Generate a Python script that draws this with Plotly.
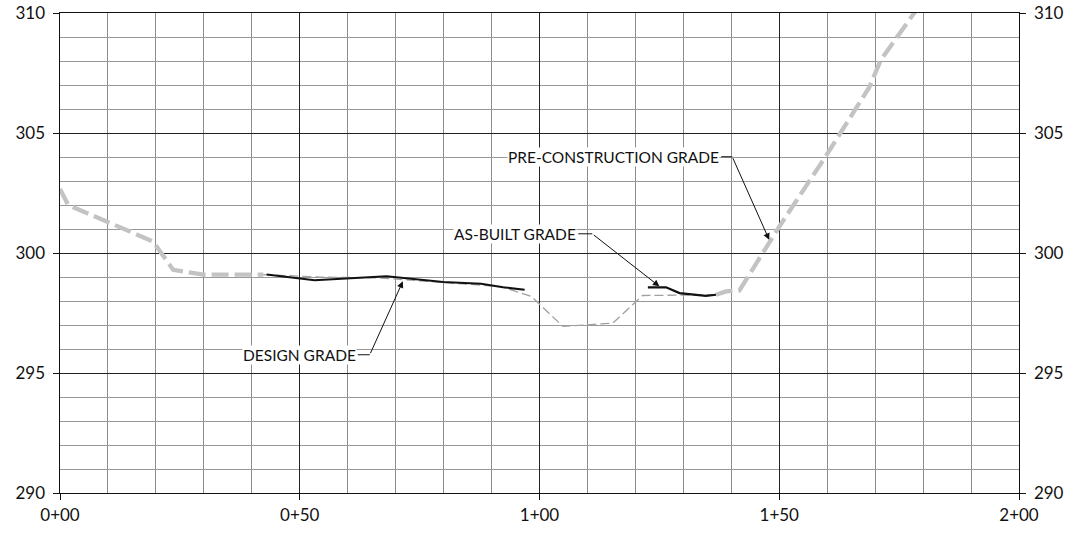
import plotly.graph_objects as go

# Station (ft) and elevation values read from the profile
pre_x_left = [0, 1.7, 19.4, 23.6, 29.9, 42.4]
pre_y_left = [302.67, 302.0, 300.48, 299.3, 299.1, 299.1]

pre_x_mid = [42.4, 54, 66.7, 73.5, 92, 98.3, 104.9, 115.3, 121.5, 136.8]
pre_y_mid = [299.1, 299.0, 298.96, 298.86, 298.6, 298.19, 296.94, 297.08, 298.23, 298.26]

pre_x_right = [136.8, 138.9, 141.7, 150, 159.7, 168.75, 171.2, 178.5]
pre_y_right = [298.26, 298.4, 298.44, 301.1, 304.03, 306.9, 308.05, 310.1]

design_x = [43.1, 53.1, 68.1, 79.9, 87.8, 92.4, 96.9]
design_y = [299.1, 298.86, 299.03, 298.79, 298.72, 298.57, 298.47]

asbuilt_x = [122.6, 126.4, 129.2, 134.7, 136.8]
asbuilt_y = [298.57, 298.57, 298.33, 298.21, 298.26]

station_vals = [0, 50, 100, 150, 200]
station_text = ["0+00", "0+50", "1+00", "1+50", "2+00"]

FONT = "Lato"
fig = go.Figure()

fig.add_trace(go.Scatter(x=pre_x_left, y=pre_y_left, mode="lines",
                         line=dict(color="#c3c3c3", width=4.3, dash="17px,6px")))
fig.add_trace(go.Scatter(x=pre_x_mid, y=pre_y_mid, mode="lines",
                         line=dict(color="#a0a0a0", width=1.3, dash="9px,4px")))
fig.add_trace(go.Scatter(x=pre_x_right, y=pre_y_right, mode="lines",
                         line=dict(color="#c3c3c3", width=4.3, dash="17px,6px")))
fig.add_trace(go.Scatter(x=design_x, y=design_y, mode="lines",
                         line=dict(color="#111111", width=2)))
fig.add_trace(go.Scatter(x=asbuilt_x, y=asbuilt_y, mode="lines",
                         line=dict(color="#111111", width=2.2)))
# invisible trace so the right-hand elevation axis is drawn
fig.add_trace(go.Scatter(x=[0], y=[300], yaxis="y2", mode="lines",
                         line=dict(width=0), hoverinfo="skip"))

# labels with leader lines: (text, text end x, y, bend x, tip x, tip y)
labels = [
    ("DESIGN GRADE", 62.1, 295.76, 64.6, 71.5, 298.82),
    ("AS-BUILT GRADE", 108.1, 300.8, 111.0, 125.0, 298.61),
    ("PRE-CONSTRUCTION GRADE", 137.9, 304.01, 140.2, 147.9, 300.55),
]
for txt, tx, ty, bx, px, py in labels:
    fig.add_annotation(x=tx, y=ty, text=txt, showarrow=False, xanchor="right",
                       xshift=-1, bgcolor="white", borderpad=0,
                       font=dict(family=FONT, size=15.5, color="#111"))
    fig.add_shape(type="line", x0=tx, x1=bx, y0=ty, y1=ty,
                  line=dict(color="#111", width=1))
    fig.add_annotation(x=px, y=py, ax=bx, ay=ty, axref="x", ayref="y",
                       text="", showarrow=True, arrowhead=2, arrowsize=1.3,
                       arrowwidth=1, arrowcolor="#111")

axis_common = dict(showline=True, linecolor="#111", linewidth=1.3,
                   ticks="outside", ticklen=6, tickcolor="#111",
                   automargin=False,
                   tickfont=dict(family=FONT, size=17, color="#111"))

fig.update_layout(
    width=1065, height=533,
    margin=dict(l=60, r=46, t=13, b=40),
    paper_bgcolor="white", plot_bgcolor="white",
    showlegend=False,
    xaxis=dict(range=[0, 200], tickvals=station_vals, ticktext=station_text,
               showgrid=True, gridcolor="#222", gridwidth=1, zeroline=False,
               mirror=True,
               minor=dict(dtick=10, showgrid=True, gridcolor="#8c8c8c", gridwidth=1),
               **axis_common),
    yaxis=dict(range=[290, 310], dtick=5, showgrid=True, gridcolor="#222",
               gridwidth=1, zeroline=False, mirror=True, ticksuffix=" ",
               minor=dict(dtick=1, showgrid=True, gridcolor="#999", gridwidth=1),
               **axis_common),
    yaxis2=dict(range=[290, 310], dtick=5, overlaying="y", side="right",
                showgrid=False, zeroline=False, tickprefix=" ", **axis_common),
)

# the page's default body margin would shift the fixed-size figure
fig.write_html("out.html", config={"displayModeBar": False},
               post_script="document.body.style.margin='0';")
